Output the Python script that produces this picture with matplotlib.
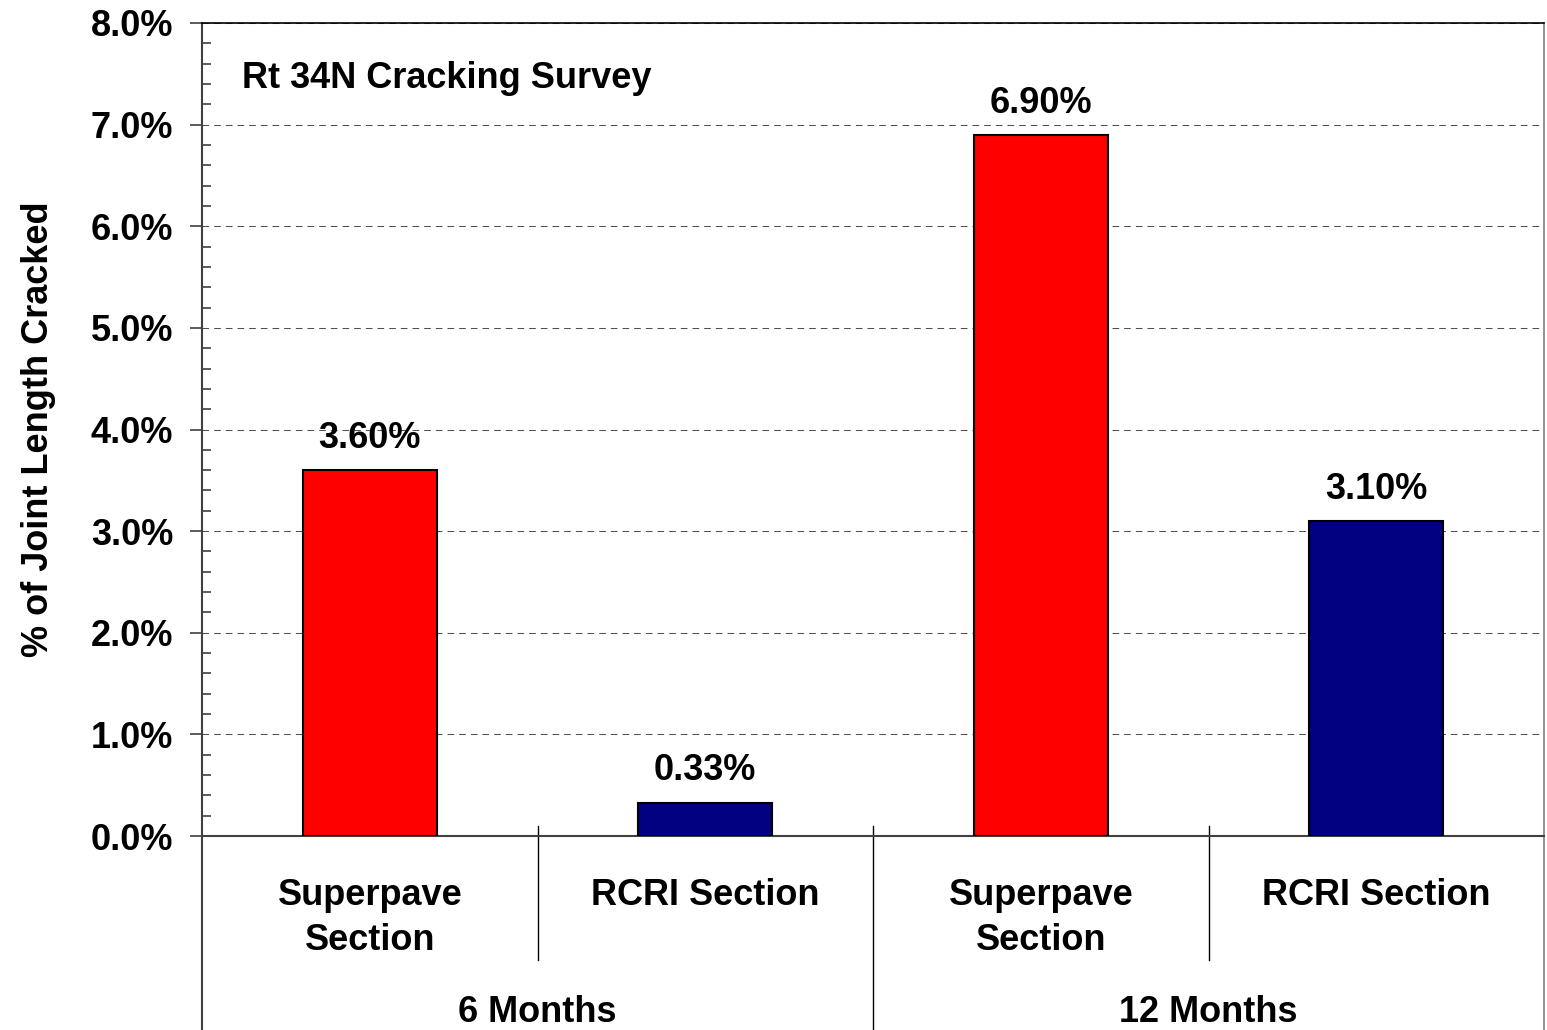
import numpy as np
import matplotlib.pyplot as plt
import matplotlib.transforms as mtransforms
from matplotlib.ticker import MultipleLocator, FuncFormatter

plt.rcParams['font.family'] = ['Liberation Sans', 'DejaVu Sans']
plt.rcParams['font.weight'] = 'bold'

# cracking survey results, percent of joint length
sections = ['Superpave\nSection', 'RCRI Section', 'Superpave\nSection', 'RCRI Section']
periods = ['6 Months', '12 Months']
cracked = [3.60, 0.33, 6.90, 3.10]
colors = ['#FF0000', '#000080', '#FF0000', '#000080']

fig = plt.figure(figsize=(15.47, 10.30), dpi=100)
ax = fig.add_axes([0.1306, 0.1883, 0.8675, 0.7894])

x = np.arange(len(cracked))
bars = ax.bar(x, cracked, width=0.4, color=colors, edgecolor='black', linewidth=1.5, zorder=3)

for xi, v in zip(x, cracked):
    ax.annotate(f'{v:.2f}%', (xi, v), xytext=(0, 16), textcoords='offset points',
                ha='center', va='baseline', fontsize=26, fontweight='bold')

ax.set_xlim(-0.5, len(cracked) - 0.5)
ax.set_ylim(0, 8)
ax.yaxis.set_major_locator(MultipleLocator(1))
ax.yaxis.set_minor_locator(MultipleLocator(0.2))
ax.yaxis.set_major_formatter(FuncFormatter(lambda v, p: f'{v:.1f}%'))
ax.tick_params(axis='y', which='major', direction='out', length=8.6, width=1.2,
               color='#404040', pad=12, labelsize=26)
ax.tick_params(axis='y', which='minor', direction='in', length=6.5, width=1.2, color='#404040')
ax.set_xticks([])

ax.grid(axis='y', which='major', linestyle=(0, (6.4, 4.8)), linewidth=0.75, color='#505050', zorder=1)
ax.set_axisbelow(True)

ax.spines['left'].set_color('#404040')
ax.spines['left'].set_linewidth(1.5)
ax.spines['bottom'].set_color('#404040')
ax.spines['bottom'].set_linewidth(1.5)
ax.spines['top'].set_color('black')
ax.spines['top'].set_linewidth(1.2)
ax.spines['right'].set_color('#808080')
ax.spines['right'].set_linewidth(1.2)

# two-level category axis drawn below the plot
trans = mtransforms.blended_transform_factory(ax.transData, ax.transAxes)
bottom = -0.2386
ax.plot([-0.5, -0.5], [0, bottom], transform=trans, color='#404040', lw=1.5, clip_on=False)
ax.plot([3.5, 3.5], [0, bottom], transform=trans, color='#808080', lw=1.2, clip_on=False)
for b in [0.5, 2.5]:
    ax.plot([b, b], [0.0123, -0.1525], transform=trans, color='black', lw=1.0, clip_on=False)
ax.plot([1.5, 1.5], [0.0123, bottom], transform=trans, color='black', lw=1.0, clip_on=False)

# baseline of the last line, so multi-line labels start at the same height
line_step = 0.0553
for xi, name in zip(x, sections):
    n_lines = name.count('\n') + 1
    ax.text(xi, -0.0849 - (n_lines - 1) * line_step, name, transform=trans,
            ha='center', va='baseline', fontsize=26, fontweight='bold', linespacing=1.37)
for i, name in enumerate(periods):
    ax.text(2 * i + 0.5, -0.2288, name, transform=trans, ha='center', va='baseline',
            fontsize=26, fontweight='bold')

ax.text(-0.122, 0.5, '% of Joint Length Cracked', transform=ax.transAxes, rotation=90,
        ha='center', va='center', fontsize=26, fontweight='bold')
ax.text(0.0298, 0.920, 'Rt 34N Cracking Survey', transform=ax.transAxes,
        ha='left', va='baseline', fontsize=26, fontweight='bold')

fig.savefig('out.png', dpi=100)
